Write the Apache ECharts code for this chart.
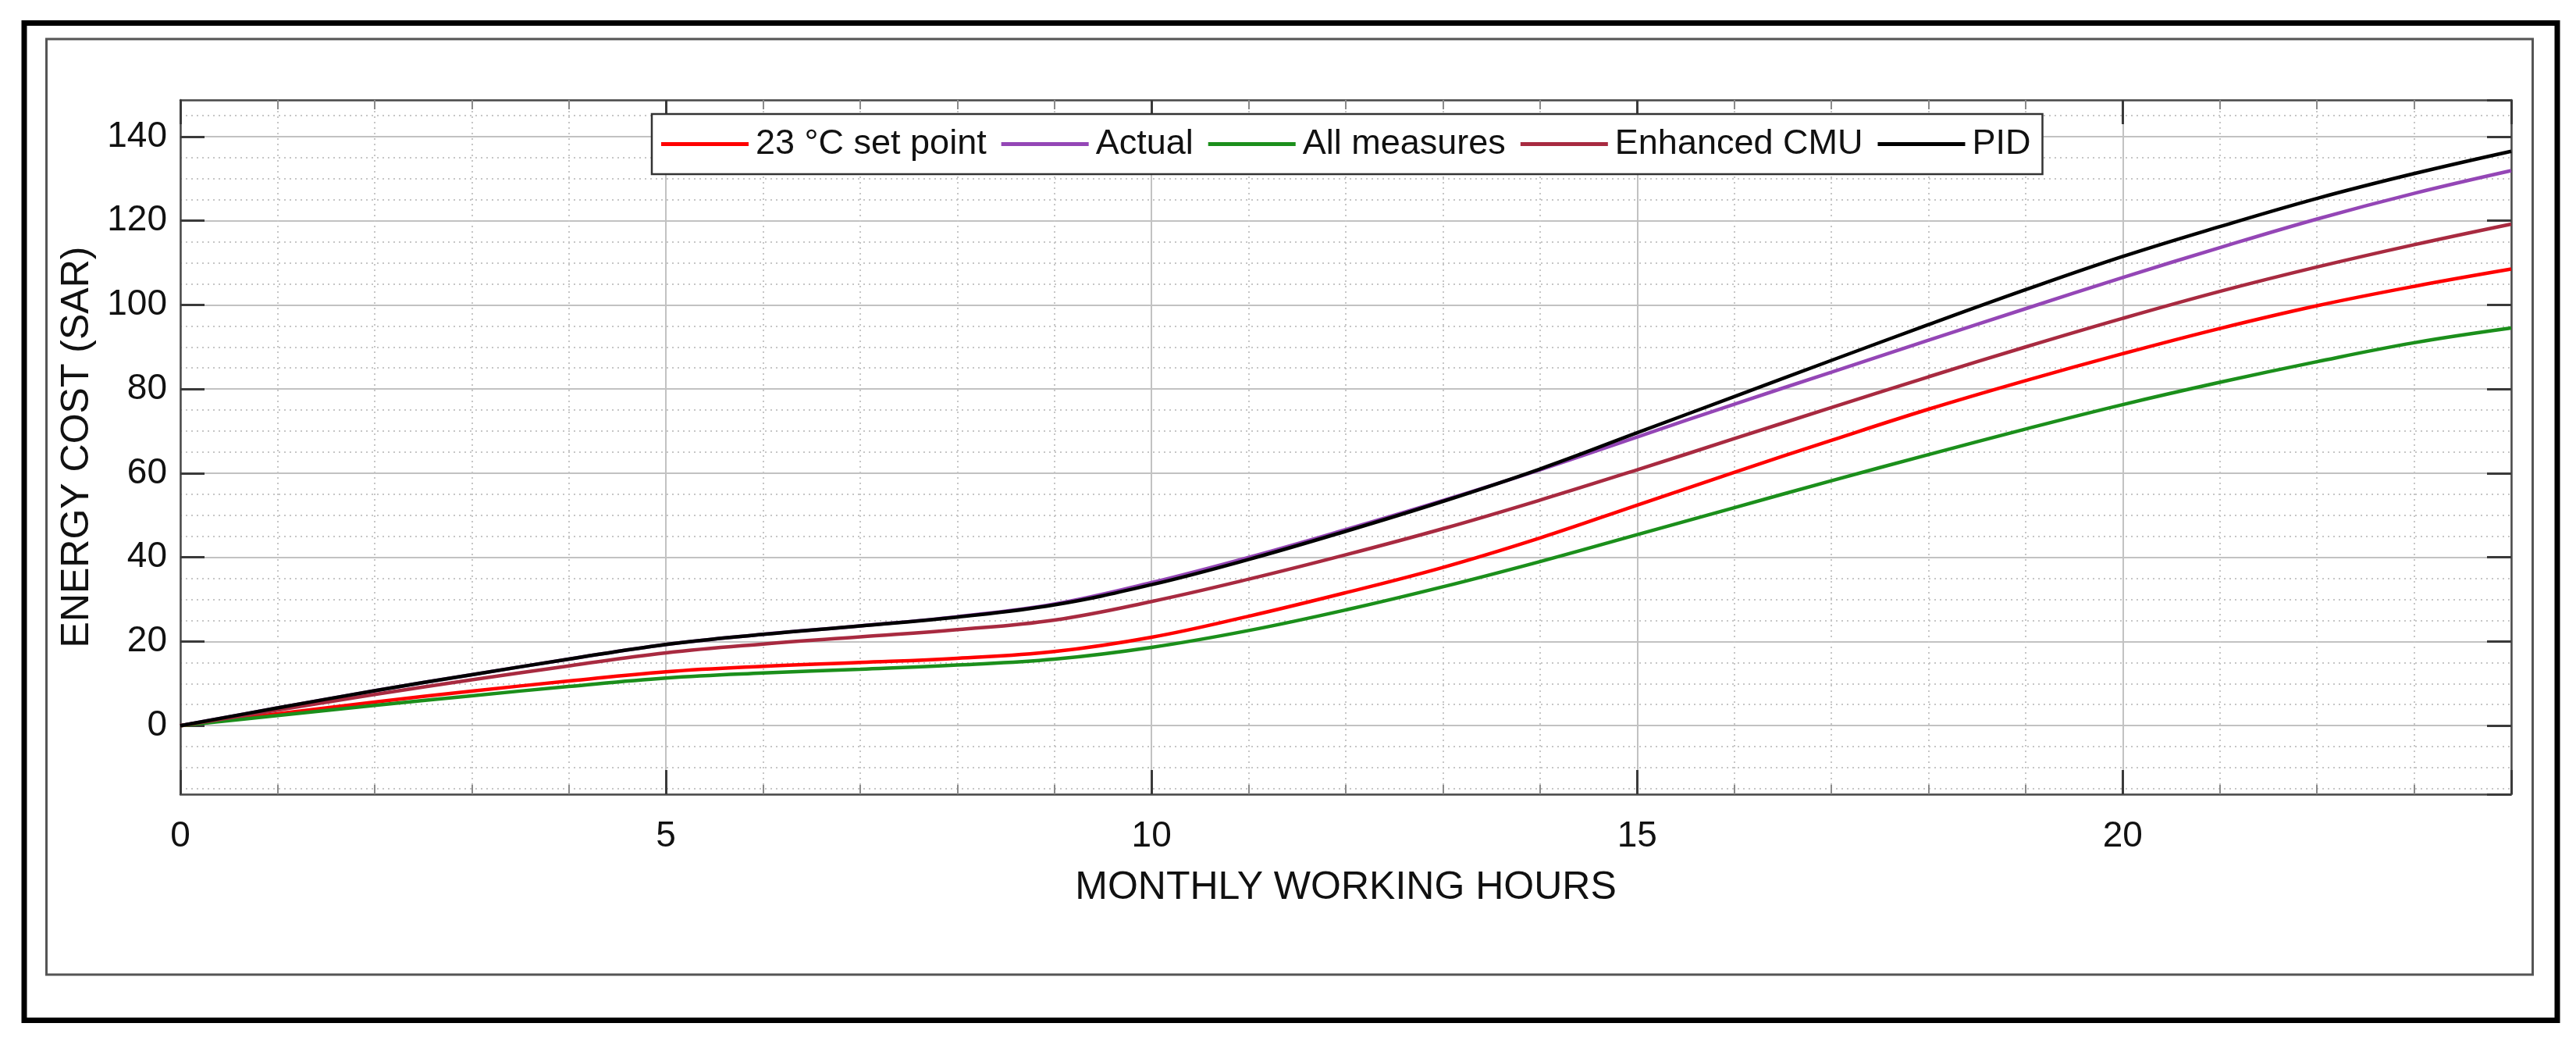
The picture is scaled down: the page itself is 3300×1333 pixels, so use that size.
<!DOCTYPE html>
<html>
<head>
<meta charset="utf-8">
<script src="https://cdn.jsdelivr.net/npm/echarts@6/dist/echarts.min.js"></script>
<style>
  html, body { margin: 0; padding: 0; background: #ffffff; }
  #chart { width: 3300px; height: 1333px; }
</style>
</head>
<body>
<div id="chart"></div>
<script>
// ---- Data ----
const hours = [0, 1, 2, 3, 4, 5, 6, 7, 8, 9, 10, 11, 12, 13, 14, 15, 16, 17, 18, 19, 20, 21, 22, 23, 24];
const setPoint23 = [0, 2.8, 5.6, 8.2, 10.6, 12.8, 14.1, 15.0, 16.0, 17.6, 21.0, 26.0, 31.6, 37.6, 44.6, 52.4, 60.2, 67.8, 75.2, 82.0, 88.4, 94.4, 99.8, 104.4, 108.5];
const actual = [0, 4.2, 8.3, 12.1, 15.8, 19.3, 21.7, 23.7, 25.9, 28.9, 34.0, 40.0, 46.6, 53.5, 60.8, 68.6, 76.4, 84.0, 91.6, 99.1, 106.5, 113.6, 120.4, 126.5, 131.9];
const allMeasures = [0, 2.4, 4.8, 7.1, 9.3, 11.3, 12.5, 13.4, 14.4, 15.8, 18.6, 22.6, 27.5, 33.0, 39.0, 45.4, 51.8, 58.2, 64.4, 70.5, 76.3, 81.6, 86.5, 91.0, 94.5];
const enhancedCMU = [0, 3.7, 7.4, 10.9, 14.2, 17.3, 19.4, 21.1, 22.8, 25.1, 29.5, 34.8, 40.6, 46.8, 53.6, 60.8, 68.2, 75.6, 82.9, 90.0, 96.8, 103.2, 109.0, 114.3, 119.2];
const pid = [0, 4.2, 8.3, 12.1, 15.8, 19.3, 21.7, 23.7, 25.8, 28.7, 33.5, 39.5, 46.2, 53.3, 61.0, 69.6, 78.2, 86.8, 95.3, 103.6, 111.5, 118.6, 125.3, 131.2, 136.5];

const seriesNames = ['23 °C set point', 'Actual', 'All measures', 'Enhanced CMU', 'PID'];
const seriesValues = [setPoint23, actual, allMeasures, enhancedCMU, pid];
const seriesColors = ['#ff0000', '#9446b6', '#1b8f1b', '#a82a40', '#000000'];

const xName = 'MONTHLY WORKING HOURS';
const yName = 'ENERGY COST (SAR)';
const xRange = [0, 24];
const yRange = [-16.3, 148.7];

const FONT = '"Liberation Sans", Arial, Helvetica, sans-serif';

function pairs(vals) { return hours.map((h, i) => [h, vals[i]]); }

const chart = echarts.init(document.getElementById('chart'), null, { renderer: 'canvas' });

const axisLineStyle = { color: '#4a4a4a', width: 2.5 };
const majorTick = { show: true, inside: true, length: 31, lineStyle: { color: '#3a3a3a', width: 3 } };
const gridMajor = { show: true, lineStyle: { color: '#c2c2c2', width: 2, type: 'solid' } };
const gridMinor = { show: true, lineStyle: { color: '#c6c6c6', width: 2, type: [2, 5] } };

const option = {
  backgroundColor: '#ffffff',
  animation: false,
  textStyle: { fontFamily: FONT },
  grid: { left: 231, right: 83, top: 128, bottom: 316, containLabel: false },
  legend: {
    show: true,
    data: seriesNames.map(n => ({ name: n, icon: 'rect' })),
    left: 835,
    top: 146,
    orient: 'horizontal',
    itemWidth: 112,
    itemHeight: 5,
    itemGap: 19,
    padding: [16, 15, 16, 12],
    borderColor: '#333333',
    borderWidth: 2.5,
    backgroundColor: '#ffffff',
    textStyle: { fontFamily: FONT, fontSize: 45, color: '#111111', padding: [0, 0, 0, 4] },
    selectedMode: false
  },
  xAxis: [
    {
      type: 'value', position: 'bottom', min: xRange[0], max: xRange[1], interval: 5,
      name: xName, nameLocation: 'middle', nameGap: 95,
      nameTextStyle: { fontFamily: FONT, fontSize: 50, color: '#111111' },
      axisLine: { show: true, onZero: false, lineStyle: axisLineStyle },
      axisTick: majorTick,
      minorTick: { show: true, splitNumber: 5, length: 12, lineStyle: { color: '#8a8a8a', width: 2 } },
      axisLabel: { show: true, margin: 31, fontFamily: FONT, fontSize: 46, color: '#111111', showMaxLabel: false },
      splitLine: gridMajor,
      minorSplitLine: gridMinor
    },
    {
      type: 'value', position: 'top', min: xRange[0], max: xRange[1], interval: 5,
      axisLine: { show: true, onZero: false, lineStyle: axisLineStyle },
      axisTick: majorTick,
      minorTick: { show: true, splitNumber: 5, length: 12, lineStyle: { color: '#8a8a8a', width: 2 } },
      axisLabel: { show: false },
      splitLine: { show: false }
    }
  ],
  yAxis: [
    {
      type: 'value', position: 'left', min: yRange[0], max: yRange[1], minInterval: 20, maxInterval: 20,
      name: yName, nameLocation: 'middle', nameGap: 107, nameRotate: 90,
      nameTextStyle: { fontFamily: FONT, fontSize: 50, color: '#111111' },
      axisLine: { show: true, onZero: false, lineStyle: axisLineStyle },
      axisTick: majorTick,
      minorTick: { show: false, splitNumber: 4 },
      axisLabel: { show: true, margin: 17, fontFamily: FONT, fontSize: 46, color: '#111111', showMinLabel: false, showMaxLabel: false },
      splitLine: gridMajor,
      minorSplitLine: gridMinor
    },
    {
      type: 'value', position: 'right', min: yRange[0], max: yRange[1], minInterval: 20, maxInterval: 20,
      axisLine: { show: true, onZero: false, lineStyle: axisLineStyle },
      axisTick: majorTick,
      axisLabel: { show: false },
      splitLine: { show: false }
    }
  ],
  series: seriesNames.map((name, i) => ({
    name: name,
    type: 'line',
    xAxisIndex: 0,
    yAxisIndex: 0,
    data: pairs(seriesValues[i]),
    smooth: 0.4,
    symbol: 'none',
    showSymbol: false,
    clip: true,
    lineStyle: { color: seriesColors[i], width: 4.5 },
    itemStyle: { color: seriesColors[i] },
    z: 3 + i
  })),
  graphic: [
    {
      type: 'rect', silent: true, z: 100,
      shape: { x: 31, y: 29.5, width: 3245, height: 1277 },
      style: { fill: 'none', stroke: '#000000', lineWidth: 7 }
    },
    {
      type: 'rect', silent: true, z: 100,
      shape: { x: 59.5, y: 50, width: 3185, height: 1198 },
      style: { fill: 'none', stroke: '#555555', lineWidth: 3 }
    }
  ]
};

chart.setOption(option);
</script>
</body>
</html>
